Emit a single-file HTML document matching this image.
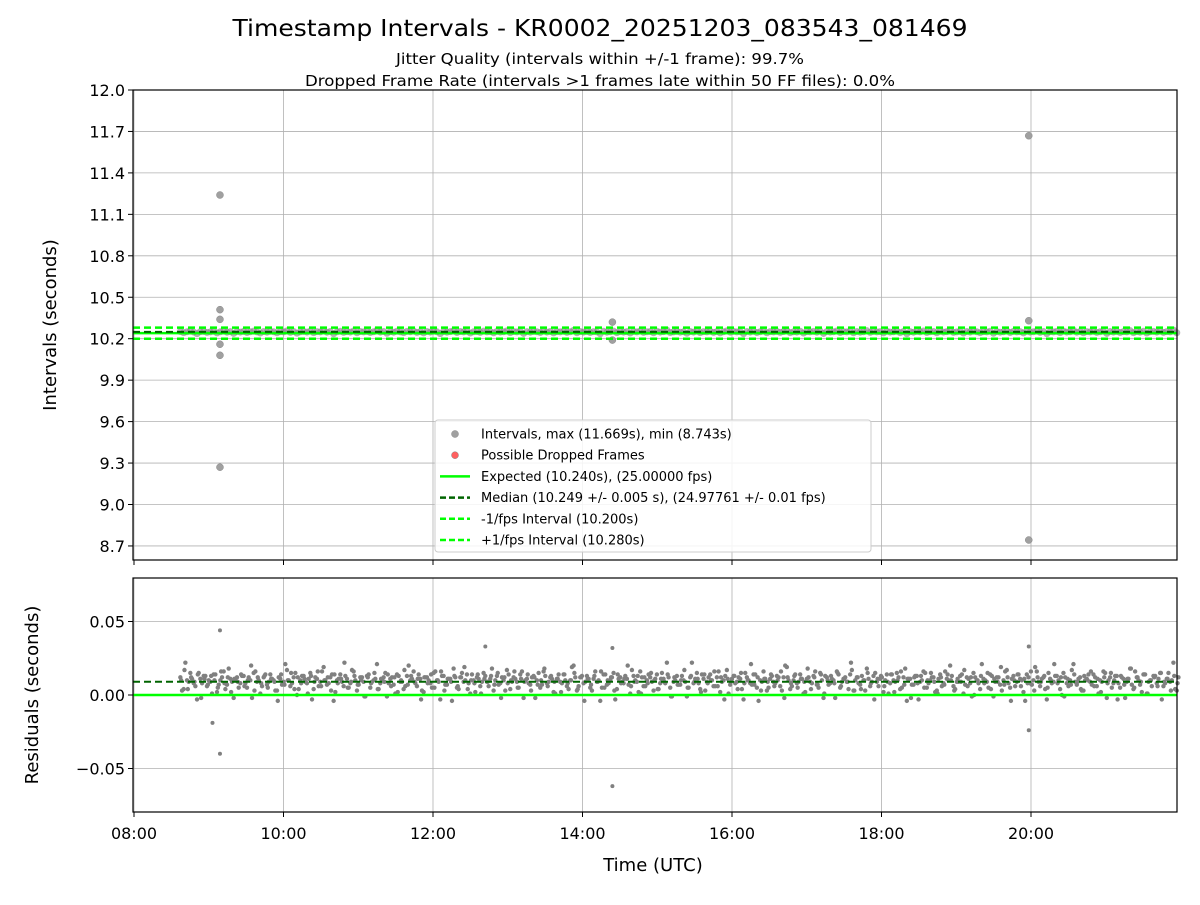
<!DOCTYPE html>
<html><head><meta charset="utf-8"><style>
body{margin:0;background:#fff;font-family:"Liberation Sans","DejaVu Sans",sans-serif}
svg text{font-family:"DejaVu Sans","Liberation Sans",sans-serif}
</style></head><body>
<svg id="c" width="1200" height="900"></svg>
<script>
const residuals=[0.012,0.004,0.010,0.015,0.008,-0.003,0.011,0.013,0.006,0.009,0.014,0.002,0.010,0.016,0.007,0.011,-0.002,0.012,0.008,0.013,0.005,0.010,0.015,0.009,0.001,0.012,0.007,0.014,0.010,0.003,
0.011,0.009,0.017,0.006,0.012,0.000,0.010,0.013,0.008,0.015,0.004,0.011,0.009,0.019,0.007,0.012,-0.004,0.010,0.014,0.006,0.011,0.008,0.016,0.003,0.012,0.009,0.013,0.005,0.010,0.021,
0.008,0.012,-0.001,0.011,0.007,0.014,0.009,0.004,0.013,0.010,0.016,0.006,0.011,0.002,0.012,0.008,0.015,0.010,-0.003,0.013,0.007,0.011,0.018,0.005,0.012,0.009,0.014,0.001,0.010,0.012,
0.006,0.015,0.009,0.011,0.003,0.013,0.008,0.010,0.017,0.004,0.012,0.009,0.014,-0.002,0.011,0.007,0.013,0.010,0.005,0.016,0.008,0.012,0.002,0.011,0.009,0.014,0.006,0.010,0.020,0.003,
0.012,0.008,0.013,0.005,0.011,0.009,-0.004,0.014,0.007,0.010,0.015,0.004,0.012,0.008,0.011,0.001,0.013,0.009,0.016,0.006,0.010,0.012,0.003,0.014,0.008,0.011,0.022,0.005,0.009,0.013,
0.007,0.010,-0.001,0.012,0.008,0.015,0.004,0.011,0.009,0.014,0.006,0.012,0.002,0.010,0.017,0.007,0.013,0.009,0.011,-0.003,0.012,0.008,0.014,0.005,0.010,0.016,0.003,0.011,0.009,0.013,
0.006,0.012,0.019,0.004,0.010,0.008,0.014,0.001,0.011,0.009,0.013,0.007,0.015,-0.002,0.012,0.008,0.010,0.016,0.005,0.011,0.009,0.014,0.003,0.012,0.007,0.010,0.018,0.006,0.013,0.009,
0.011,0.002,0.014,0.008,0.010,0.015,0.004,0.012,-0.004,0.011,0.007,0.013,0.009,0.016,0.005,0.010,0.012,0.003,0.014,0.008,0.011,0.020,0.006,0.009,0.013,0.001,0.012,0.008,0.015,0.010,
0.004,0.011,0.009,0.014,-0.001,0.012,0.007,0.010,0.017,0.005,0.013,0.009,0.011,0.002,0.014,0.008,0.010,0.016,0.006,0.012,-0.003,0.011,0.009,0.013,0.004,0.015,0.008,0.010,0.021,0.007,
0.012,0.003,0.011,0.009,0.014,0.006,0.010,0.016,-0.002,0.012,0.008,0.013,0.005,0.011,0.009,0.018,0.004,0.012,0.007,0.014,0.001,0.010,0.013,0.008,0.015,0.006,0.011,0.009,0.022,0.003];
const outlierHours=[9.05,9.15,9.15,12.7,14.4,14.4,19.97,19.97];
const outlierResiduals=[-0.019,0.044,-0.040,0.033,0.032,-0.062,0.033,-0.024];
const intervalOutlierHours=[9.15,9.15,9.15,9.15,9.15,9.15,14.4,14.4,19.97,19.97,19.97];
const intervalOutlierValues=[11.24,10.41,10.34,10.16,10.08,9.27,10.32,10.19,11.669,10.33,8.743];
const xTicks=["08:00","10:00","12:00","14:00","16:00","18:00","20:00"];
const yTicksTop=[8.7,9.0,9.3,9.6,9.9,10.2,10.5,10.8,11.1,11.4,11.7,12.0];
const yTicksBot=[-0.05,0.00,0.05];
const expected=10.24, median=10.249, lowI=10.20, highI=10.28, startHour=8.62, endHour=21.95;

const NS="http://www.w3.org/2000/svg",svg=document.getElementById('c');
function el(t,a,p){const e=document.createElementNS(NS,t);for(const k in a)e.setAttribute(k,a[k]);(p||svg).appendChild(e);return e;}
const L=133,R=1177;
const X=h=>134+(h-8)*74.75;
const Yt=v=>90+(12-v)/0.3*41.45;
const Yb=v=>695-v/0.05*73.5;
function txt(s,x,y,sz,anc,name,len){const t=el('text',{x:x,y:y,'font-size':sz,'text-anchor':anc||'middle',fill:'#000'});if(len){t.setAttribute('textLength',len);t.setAttribute('lengthAdjust','spacingAndGlyphs');}t.textContent=s;return t;}
txt("Timestamp Intervals - KR0002_20251203_083543_081469",600,36,23,'middle','chart-title',735);
txt("Jitter Quality (intervals within +/-1 frame): 99.7%",600,64,15,'middle','jitter-subtitle',408);
txt("Dropped Frame Rate (intervals >1 frames late within 50 FF files): 0.0%",600,86,15,'middle','dropped-subtitle',590);
xTicks.forEach((s,i)=>{const x=X(8+2*i);
 [[90,560],[578,812]].forEach(([a,b])=>{const g=el('line',{x1:x,x2:x,y1:a,y2:b,stroke:'#b0b0b0','stroke-width':0.8});
 const t=el('line',{x1:x,x2:x,y1:b,y2:b+5,stroke:'#000'});});
 txt(s,x,839,16,'middle','x-tick-label');});
yTicksTop.forEach(v=>{const y=Yt(v);const g=el('line',{x1:L,x2:R,y1:y,y2:y,stroke:'#b0b0b0','stroke-width':0.8});
 el('line',{x1:L-5,x2:L,y1:y,y2:y,stroke:'#000'});txt(v.toFixed(1),L-8,y+6,16,'end','y-tick-label-top');});
yTicksBot.forEach(v=>{const y=Yb(v);const g=el('line',{x1:L,x2:R,y1:y,y2:y,stroke:'#b0b0b0','stroke-width':0.8});
 el('line',{x1:L-5,x2:L,y1:y,y2:y,stroke:'#000'});txt((v<0?'\u2212':'')+Math.abs(v).toFixed(2),L-8,y+6,16,'end','y-tick-label-bottom');});
const n=residuals.length;
residuals.forEach((r,i)=>{const h=startHour+(endHour-startHour)*i/(n-1);
 const c=el('circle',{cx:X(h),cy:Yt(expected+r),r:3.5,fill:'#808080','fill-opacity':0.6});});
intervalOutlierHours.forEach((h,i)=>{const c=el('circle',{cx:X(h),cy:Yt(intervalOutlierValues[i]),r:3.5,fill:'#a0a0a0','stroke':'#888','stroke-width':0.5});});
function hl(y,col,dash,w,name){const l=el('line',{x1:L,x2:R,y1:y,y2:y,stroke:col,'stroke-width':w,'stroke-dasharray':dash});}
hl(Yt(expected),'#00ff00','',2.5,'expected-line');
hl(Yt(median),'#006400','7,4',2,'median-line');
hl(Yt(lowI),'#00ff00','7,4',2.5,'minus-fps-line');
hl(Yt(highI),'#00ff00','7,4',2.5,'plus-fps-line');
// bottom scatter: plot series, plus same samples in reversed order interleaved to fill density
residuals.forEach((r,i)=>{const h=startHour+(endHour-startHour)*i/(n-1);
 const c=el('circle',{cx:X(h),cy:Yb(r),r:2.2,fill:'#808080'});
 const r2=residuals[n-1-i];
 const c2=el('circle',{cx:X(h)+1.7,cy:Yb(r2),r:2.2,fill:'#808080'});
 const r3=residuals[(i+97)%n];
 const c3=el('circle',{cx:X(h)+0.8,cy:Yb(r3),r:2.2,fill:'#808080'});});
outlierHours.forEach((h,i)=>{const c=el('circle',{cx:X(h),cy:Yb(outlierResiduals[i]),r:2,fill:'#808080'});});
hl(Yb(median-expected),'#006400','7,4',2,'median-residual-line');
hl(Yb(0),'#00ff00','',2.5,'zero-residual-line');
[[90,560],[578,812]].forEach(([a,b])=>{const f=el('rect',{x:L,y:a,width:R-L,height:b-a,fill:'none',stroke:'#000','stroke-width':1.2});});
let t=txt("Intervals (seconds)",0,0,18,'middle','y-axis-title-top');t.setAttribute('transform','translate(56,325) rotate(-90)');
t=txt("Residuals (seconds)",0,0,18,'middle','y-axis-title-bottom');t.setAttribute('transform','translate(38,695) rotate(-90)');
txt("Time (UTC)",653,871,18,'middle','x-axis-title');
const lg=el('g',{});
el('rect',{x:435,y:420,width:436,height:132,rx:3,fill:'#fff','fill-opacity':0.85,stroke:'#ccc'},lg);
const entries=[["Intervals, max (11.669s), min (8.743s)",'pt','#a0a0a0'],["Possible Dropped Frames",'pt','#ff6060'],["Expected (10.240s), (25.00000 fps)",'solid','#00ff00'],["Median (10.249 +/- 0.005 s), (24.97761 +/- 0.01 fps)",'dash','#006400'],["-1/fps Interval (10.200s)",'dash','#00ff00'],["+1/fps Interval (10.280s)",'dash','#00ff00']];
entries.forEach((e,i)=>{const y=434+i*21.2;
 if(e[1]=='pt')el('circle',{cx:455,cy:y,r:3.5,fill:e[2],stroke:'#888','stroke-width':0.5},lg);
 else el('line',{x1:440,x2:470,y1:y,y2:y,stroke:e[2],'stroke-width':2.5,'stroke-dasharray':e[1]=='dash'?'6,3':''},lg);
 const tt=el('text',{x:481,y:y+4.5,'font-size':13,fill:'#000'},lg);tt.textContent=e[0];
 });
</script>
</body></html>
